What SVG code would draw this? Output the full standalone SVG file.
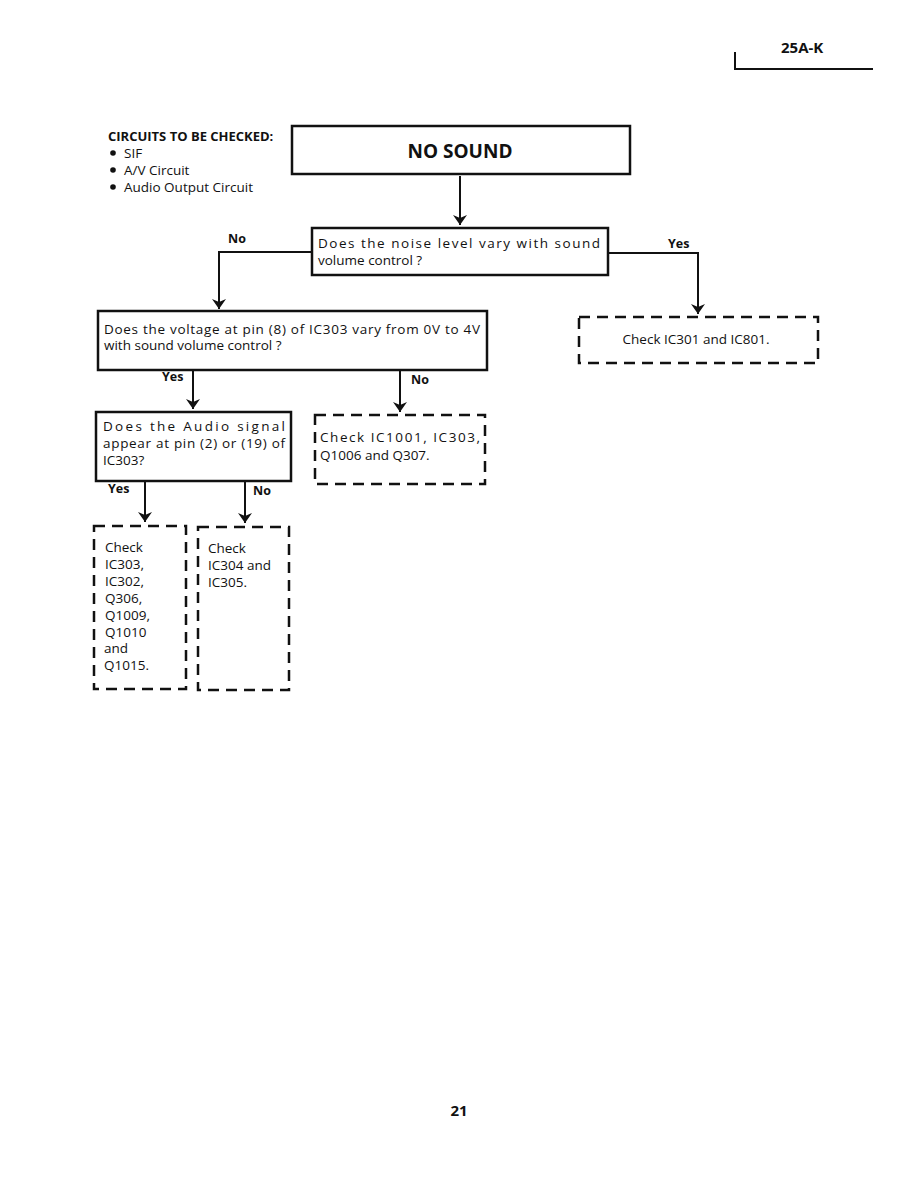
<svg xmlns="http://www.w3.org/2000/svg" width="918" height="1188" viewBox="0 0 918 1188">
<style>
text{font-family:"Open Sans","Liberation Sans",sans-serif;fill:#111;font-size:13.5px}
.b{font-weight:bold}
.lbl{font-weight:bold;font-size:12.5px}
.big{font-weight:bold;font-size:19px}
.hd{font-weight:bold;font-size:15px}
.box{fill:#fff;stroke:#111;stroke-width:2.5}
.dash{fill:none;stroke:#111;stroke-width:2.5;stroke-dasharray:11 7}
.ln{fill:none;stroke:#111;stroke-width:2}
</style>
<defs>
<marker id="ah" viewBox="0 0 10 14" refX="10" refY="7" markerWidth="10" markerHeight="14" markerUnits="userSpaceOnUse" orient="auto">
<path d="M0,0 L10,7 L0,14 L3,7 Z" fill="#111"/>
</marker>
</defs>
<rect width="918" height="1188" fill="#fff"/>
<g id="header">
<path class="ln" d="M735,52 V69 H873" stroke-width="1.5"/>
<text x="781" y="53" class="hd">25A-K</text>
</g>
<g id="circuits">
<text x="108" y="141" class="b" style="font-size:13px">CIRCUITS TO BE CHECKED:</text>
<circle cx="113" cy="153" r="2.8" fill="#111"/>
<circle cx="113" cy="170" r="2.8" fill="#111"/>
<circle cx="113" cy="187" r="2.8" fill="#111"/>
<text x="124" y="158">SIF</text>
<text x="124" y="175">A/V Circuit</text>
<text x="124" y="192">Audio Output Circuit</text>
</g>
<g id="connectors">
<path class="ln" d="M460,176 V225" marker-end="url(#ah)"/>
<path class="ln" d="M312,252 H219 V309" marker-end="url(#ah)"/>
<path class="ln" d="M608,253 H698 V314" marker-end="url(#ah)"/>
<path class="ln" d="M193,370 V409" marker-end="url(#ah)"/>
<path class="ln" d="M400,370 V412" marker-end="url(#ah)"/>
<path class="ln" d="M145,481 V522" marker-end="url(#ah)"/>
<path class="ln" d="M245,481 V523" marker-end="url(#ah)"/>
<text x="228" y="243" class="lbl">No</text>
<text x="668" y="248" class="lbl">Yes</text>
<text x="162" y="381" class="lbl">Yes</text>
<text x="411" y="384" class="lbl">No</text>
<text x="108" y="493" class="lbl">Yes</text>
<text x="253" y="495" class="lbl">No</text>
</g>
<g id="nosound">
<rect x="292" y="126" width="338" height="48" class="box" stroke-width="3"/>
<text x="460" y="158" class="big" text-anchor="middle">NO SOUND</text>
</g>
<g id="q1">
<rect x="312" y="228" width="296" height="47" class="box"/>
<text x="318" y="248" textLength="282" lengthAdjust="spacing">Does the noise level vary with sound</text>
<text x="318" y="265">volume control ?</text>
</g>
<g id="check801">
<rect x="579" y="317" width="239" height="46" class="dash"/>
<text x="696" y="344" text-anchor="middle">Check IC301 and IC801.</text>
</g>
<g id="q2">
<rect x="98" y="311" width="389" height="59" class="box"/>
<text x="104" y="334" textLength="376" lengthAdjust="spacing">Does the voltage at pin (8) of IC303 vary from 0V to 4V</text>
<text x="104" y="350">with sound volume control ?</text>
</g>
<g id="q3">
<rect x="96" y="412" width="195" height="69" class="box"/>
<text x="103" y="431" textLength="182" lengthAdjust="spacing">Does the Audio signal</text>
<text x="103" y="448" textLength="182" lengthAdjust="spacing">appear at pin (2) or (19) of</text>
<text x="103" y="465">IC303?</text>
</g>
<g id="check1001">
<rect x="315" y="415" width="170" height="69" class="dash"/>
<text x="320" y="442" textLength="160" lengthAdjust="spacing">Check IC1001, IC303,</text>
<text x="320" y="460">Q1006 and Q307.</text>
</g>
<g id="checkYes">
<rect x="94" y="526" width="92" height="163" class="dash"/>
<text x="105" y="552">Check</text>
<text x="105" y="569">IC303,</text>
<text x="105" y="586">IC302,</text>
<text x="105" y="603">Q306,</text>
<text x="105" y="620">Q1009,</text>
<text x="105" y="637">Q1010</text>
<text x="104" y="653">and</text>
<text x="104" y="670">Q1015.</text>
</g>
<g id="checkNo">
<rect x="198" y="527" width="91" height="163" class="dash"/>
<text x="208" y="553">Check</text>
<text x="208" y="570">IC304 and</text>
<text x="208" y="587">IC305.</text>
</g>
<g id="page">
<text x="459" y="1116" class="hd" text-anchor="middle">21</text>
</g>
</svg>
